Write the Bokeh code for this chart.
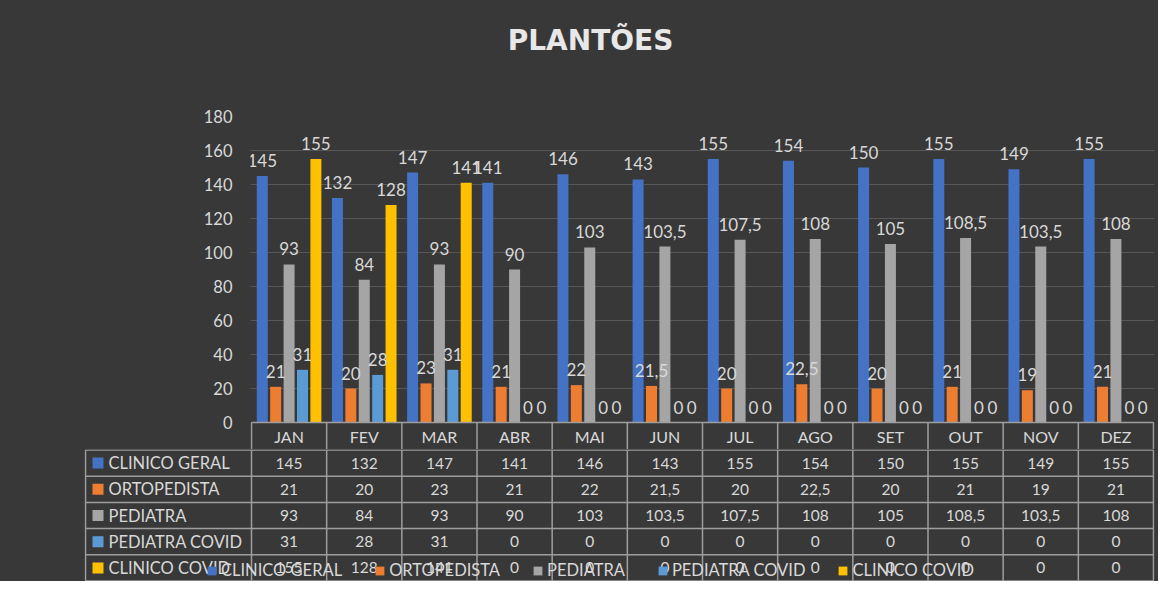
from bokeh.plotting import figure
from bokeh.layouts import column
from bokeh.models import Range1d, FixedTicker, Legend, LegendItem
from bokeh.core.properties import value
from bokeh.embed import file_html
from bokeh.resources import INLINE

# ---------------- data ----------------
months = ["JAN", "FEV", "MAR", "ABR", "MAI", "JUN", "JUL", "AGO", "SET", "OUT", "NOV", "DEZ"]
series_names = ["CLINICO GERAL", "ORTOPEDISTA", "PEDIATRA", "PEDIATRA COVID", "CLINICO COVID"]
clinico_geral = [145, 132, 147, 141, 146, 143, 155, 154, 150, 155, 149, 155]
ortopedista = [21, 20, 23, 21, 22, 21.5, 20, 22.5, 20, 21, 19, 21]
pediatra = [93, 84, 93, 90, 103, 103.5, 107.5, 108, 105, 108.5, 103.5, 108]
pediatra_covid = [31, 28, 31, 0, 0, 0, 0, 0, 0, 0, 0, 0]
clinico_covid = [155, 128, 141, 0, 0, 0, 0, 0, 0, 0, 0, 0]
series_values = [clinico_geral, ortopedista, pediatra, pediatra_covid, clinico_covid]
series_colors = ["#4472C4", "#ED7D31", "#A5A5A5", "#5B9BD5", "#FFC000"]
y_ticks = [0, 20, 40, 60, 80, 100, 120, 140, 160, 180]
title_text = "PLANTÕES"

# ---------------- style / layout ----------------
BG = "#383838"
TXT = "#d9d9d9"
LINE = "#9e9e9e"
GRID = "#575757"
FONT = "Lato"

W = 1158
H = 581
PPU = 902 / 12.0          # pixels per month column
PLOT_H = 306
YMAX = 180
PPY = PLOT_H / YMAX
HEAD_H = 27
TITLE_H = 80
TOP = 116 - TITLE_H
BAR_W = 11 / PPU
BAR_STEP = 13.4 / PPU
FRAME_L = 250


def fmt(v):
    return f"{v:g}".replace(".", ",")


common = dict(output_backend="svg", toolbar_location=None, background_fill_color=BG,
              border_fill_color=BG, outline_line_color=None, frame_align=False)

# ---------------- title strip ----------------
pT = figure(width=W, height=TITLE_H, x_range=Range1d(0, W), y_range=Range1d(TITLE_H, 0),
            x_axis_type=None, y_axis_type=None, min_border_left=0, min_border_right=0,
            min_border_top=0, min_border_bottom=0, **common)
pT.xgrid.visible = False
pT.ygrid.visible = False
pT.text(x=[590], y=[40], text=[title_text], text_align="center", text_baseline="alphabetic",
        text_font=value("DejaVu Sans"), text_font_style="bold", text_font_size="28px",
        text_color="#e8e8e8")

# ---------------- bar chart ----------------
pad = 1.0 / PPU
ymin = -HEAD_H / PPY
n = len(months)

pA = figure(width=W, height=TOP + PLOT_H + HEAD_H,
            x_range=Range1d(-pad, n + pad), y_range=Range1d(ymin, YMAX),
            x_axis_type=None,
            min_border_left=FRAME_L, min_border_right=4, min_border_top=TOP, min_border_bottom=0,
            **common)

ticker = FixedTicker(ticks=y_ticks)
ax = pA.yaxis[0]
ax.ticker = ticker
ax.axis_line_color = None
ax.major_tick_line_color = None
ax.minor_tick_line_color = None
ax.major_tick_out = 0
ax.major_tick_in = 0
ax.major_label_standoff = 18
ax.major_label_text_font = FONT
ax.major_label_text_font_size = "16.5px"
ax.major_label_text_color = TXT
pA.xgrid.visible = False
pA.ygrid.ticker = ticker
pA.ygrid.grid_line_color = GRID
pA.ygrid.grid_line_width = 1

bar_x = []
for k, (vals, color) in enumerate(zip(series_values, series_colors)):
    xs = [i + 0.5 + (k - 2) * BAR_STEP for i in range(n)]
    bar_x.append(xs)
    pA.vbar(x=xs, top=vals, bottom=0, width=BAR_W, fill_color=color, line_color=None)
for xs, vals in zip(bar_x, series_values):
    pA.text(x=xs, y=vals, text=[fmt(v) for v in vals], text_align="center",
            text_baseline="bottom", y_offset=-9, text_font=value(FONT),
            text_font_size="17px", text_color=TXT)

# header row of the data table (month names)
pA.segment(x0=[0], y0=[0], x1=[n], y1=[0], line_color=LINE, line_width=1.5)
pA.segment(x0=list(range(n + 1)), y0=[0] * (n + 1), x1=list(range(n + 1)), y1=[ymin] * (n + 1),
           line_color=LINE, line_width=1.5)
pA.text(x=[i + 0.5 for i in range(n)], y=[ymin / 2] * n, text=months, text_align="center",
        text_baseline="middle", text_font=value(FONT), text_font_size="16px", text_color=TXT)

# ---------------- table body ----------------
LABEL_PX = 166
nr = len(series_names)
H_B = H - TITLE_H - (TOP + PLOT_H + HEAD_H)
ROW_H = (H_B - 1) / nr
xL = -LABEL_PX / PPU

pB = figure(width=W, height=H_B,
            x_range=Range1d(-(LABEL_PX + 1) / PPU, n + 1 / PPU), y_range=Range1d(H_B - 0.5, -0.5),
            x_axis_type=None, y_axis_type=None,
            min_border_left=FRAME_L - LABEL_PX, min_border_right=4, min_border_top=0, min_border_bottom=0,
            **common)
pB.xgrid.visible = False
pB.ygrid.visible = False

pB.segment(x0=[xL] * (nr + 1), y0=[r * ROW_H for r in range(nr + 1)],
           x1=[n] * (nr + 1), y1=[r * ROW_H for r in range(nr + 1)], line_color=LINE, line_width=1.5)
vx = [xL] + list(range(n + 1))
pB.segment(x0=vx, y0=[0] * len(vx), x1=vx, y1=[nr * ROW_H] * len(vx), line_color=LINE, line_width=1.5)

legend_items = []
for r, (name, vals, color) in enumerate(zip(series_names, series_values, series_colors)):
    yc = (r + 0.5) * ROW_H
    sq = pB.quad(left=[xL + 7 / PPU], right=[xL + 18 / PPU], top=[yc - 5.5], bottom=[yc + 5.5],
                 fill_color=color, line_color=None)
    legend_items.append(LegendItem(label=name, renderers=[sq]))
    pB.text(x=[xL + 23 / PPU], y=[yc], text=[name], text_align="left", text_baseline="middle",
            text_font=value(FONT), text_font_size="16.5px", text_color=TXT)
    pB.text(x=[i + 0.5 for i in range(n)], y=[yc] * n, text=[fmt(v) for v in vals],
            text_align="center", text_baseline="middle", text_font=value(FONT),
            text_font_size="15.5px", text_color=TXT)

legend = Legend(items=legend_items, orientation="horizontal", location=(122, 1),
                glyph_width=11, glyph_height=11, label_standoff=4, spacing=32,
                padding=0, margin=0, label_height=20,
                label_text_font=FONT, label_text_font_size="16.5px", label_text_color=TXT,
                background_fill_alpha=0, border_line_color=None)
pB.add_layout(legend)

layout = column(pT, pA, pB, spacing=0, styles={"background-color": BG})
open("out.html", "w").write(file_html(layout, INLINE))
